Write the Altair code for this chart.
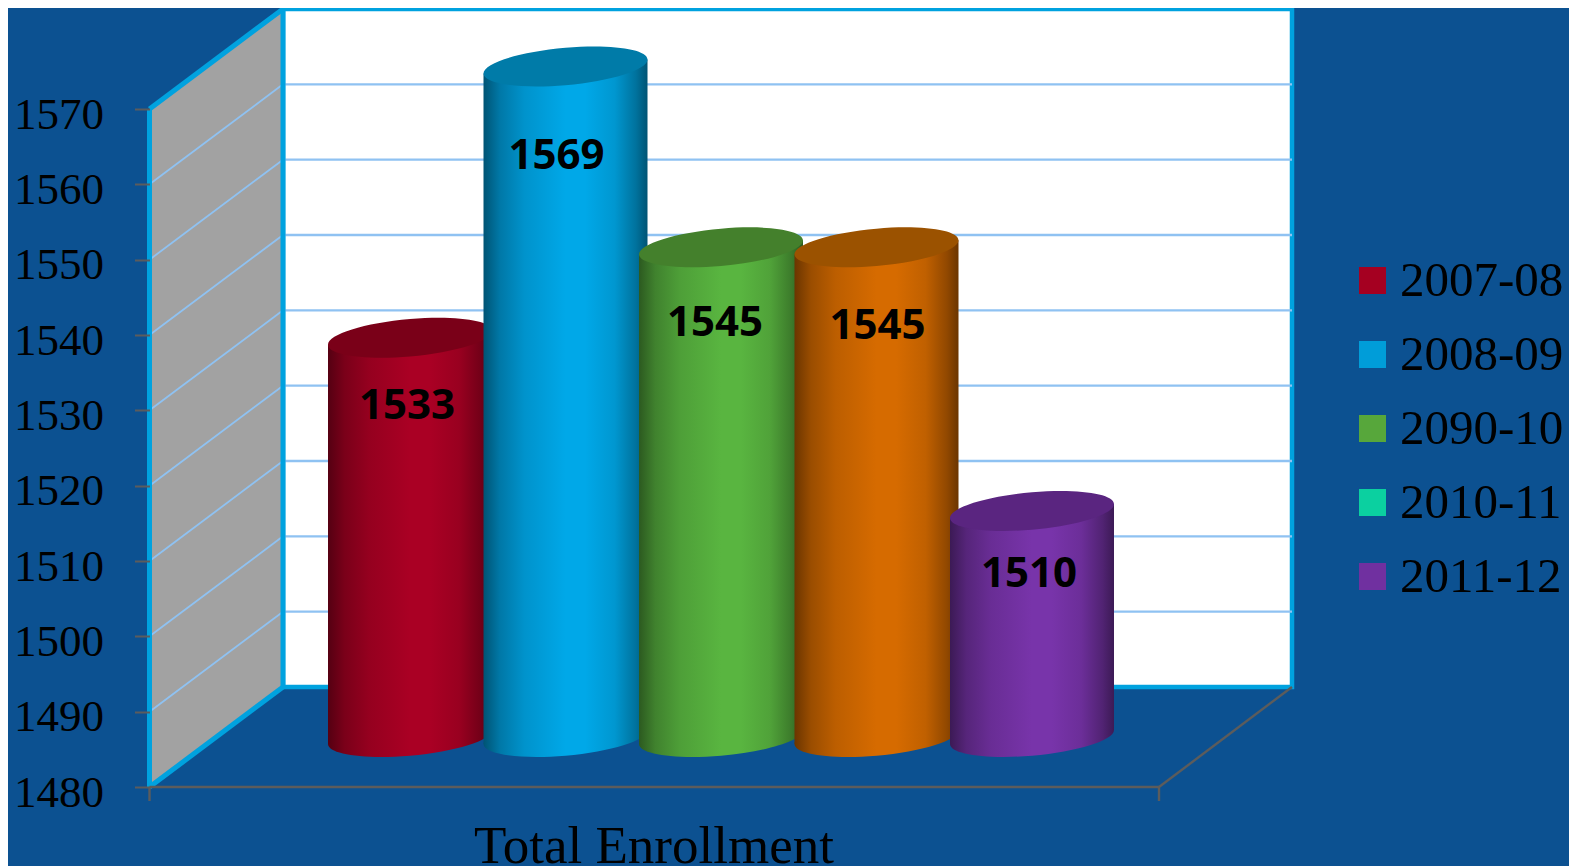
import altair as alt
import pandas as pd

years = ["2007-08", "2008-09", "2090-10", "2010-11", "2011-12"]
legend_colors = ["#A50021", "#009DD9", "#57A73B", "#0BD0A0", "#7030A0"]

bar_years = ["2007-08", "2008-09", "2090-10", "2090-10b", "2011-12"]
bar_values = [1533, 1569, 1545, 1545, 1510]
bar_base = ["#AA0024", "#00A8E8", "#59B540", "#D66B00", "#7834AA"]
bar_top = ["#7A0018", "#007BA8", "#44802C", "#9B5200", "#5A2580"]
label_dx = [-3, -9, -6, 1, -3]
label_dy = [68, 89, 76, 79, 63]

axis_ticks = [1480, 1490, 1500, 1510, 1520, 1530, 1540, 1550, 1560, 1570]
grid_values = [1490, 1500, 1510, 1520, 1530, 1540, 1550, 1560]

BG = "#0C5191"
FRAME = "#00A2DF"
GRID = "#8FC2F2"
AXIS = "#5C5C5C"
W, H = 1561, 858

# --- oblique projection of the chart box
Y_FRONT = [779, 101]
UNIT = (Y_FRONT[0] - Y_FRONT[1]) / 90
DEPTH = 100 / UNIT           # back wall, in value units
X_FRONT, X_BACK, X_RIGHT_BACK, X_RIGHT_FRONT = 141.5, 275, 1284, 1151
HALF_W = 82
TILT = 7 / UNIT

y_scale = alt.Scale(domain=[1480, 1570], range=Y_FRONT, nice=False, zero=False)
x_scale = alt.Scale(domain=[0, 4], range=[402, 1024], nice=False, zero=False)
step = (1024 - 402) / 4
half = HALF_W / step
NOAX = dict(axis=None)
y_axis = alt.Axis(
    values=axis_ticks, offset=-X_FRONT, domain=False, grid=False, ticks=True, tickSize=15,
    tickWidth=2, tickColor=AXIS, labelFont="Liberation Serif", labelFontSize=45,
    labelColor="black", labelPadding=31, labelOffset=5, labelBaseline="middle",
    format="d", labelOverlap=False, labelBound=False, labelFlush=False, title=None, zindex=1)


def Y(f):
    return alt.Y(f, type="quantitative", scale=y_scale, stack=None, axis=y_axis)


def gradient(hex_color):
    r, g, b = [int(hex_color[i:i + 2], 16) for i in (1, 3, 5)]
    stops = []
    for off, m in [(0, .5), (.1, .72), (.25, .88), (.5, 1.0), (.62, 1.0), (.8, .9), (.93, .68), (1, .5)]:
        stops.append({"offset": off, "color": "#%02x%02x%02x" % (int(r * m), int(g * m), int(b * m))})
    return {"gradient": "linear", "x1": 0, "x2": 1, "y1": 0, "y2": 0, "stops": stops}


def ellipse_path():
    s, b, k = 7 / 82, 18.7 / 82, 0.5523
    pts = [(1, 0), (1, k), (k, 1), (0, 1), (-k, 1), (-1, k), (-1, 0),
           (-1, -k), (-k, -1), (0, -1), (k, -1), (1, -k), (1, 0)]
    q = [(x, -s * x + b * y) for x, y in pts]
    f = lambda p: f"{p[0]:.4f},{p[1]:.4f}"
    d = "M" + f(q[0])
    for i in range(1, 13, 3):
        d += " C" + " ".join(f(p) for p in q[i:i + 3])
    return d + " Z"


ELLIPSE = ellipse_path()
E_SIZE = (2 * HALF_W) ** 2

# --- walls
back = alt.Chart(pd.DataFrame({"x0": [X_BACK], "x1": [X_RIGHT_BACK], "lo": [1480 + DEPTH], "hi": [1570 + DEPTH]})).mark_rect(
    fill="white", stroke=FRAME, strokeWidth=4.5
).encode(x=alt.X("x0:Q", scale=None, **NOAX), x2="x1:Q", y=Y("lo"), y2="hi:Q")

side = alt.Chart(pd.DataFrame({"x": [X_FRONT, X_BACK], "lo": [1480, 1480 + DEPTH], "hi": [1570, 1570 + DEPTH]})).mark_area(
    color="#A2A2A2"
).encode(x=alt.X("x:Q", scale=None, **NOAX), y=Y("lo"), y2="hi:Q")

grid_df = pd.DataFrame({"v": grid_values, "vb": [v + DEPTH for v in grid_values]})
back_grid = alt.Chart(grid_df).mark_rule(color=GRID, strokeWidth=2.4).encode(
    x=alt.value(X_BACK), x2=alt.value(X_RIGHT_BACK), y=Y("vb"))
side_grid = alt.Chart(grid_df).mark_rule(color=GRID, strokeWidth=1.8).encode(
    x=alt.value(X_FRONT), x2=alt.value(X_BACK), y=Y("v"), y2="vb:Q")


def seg_layer(rows, color, width):
    df = pd.DataFrame(rows, columns=["x0", "x1", "v0", "v1"])
    return alt.Chart(df).mark_rule(color=color, strokeWidth=width).encode(
        x=alt.X("x0:Q", scale=None, **NOAX), x2="x1:Q", y=Y("v0"), y2="v1:Q")


frame = seg_layer([
    (X_FRONT, X_FRONT, 1480, 1570),
    (X_FRONT, X_BACK, 1570, 1570 + DEPTH),
    (X_FRONT, X_BACK, 1480, 1480 + DEPTH),
    (X_BACK, X_BACK, 1480 + DEPTH, 1570 + DEPTH),
], FRAME, 5)
floor = seg_layer([
    (X_FRONT, X_RIGHT_FRONT, 1480, 1480),
    (X_RIGHT_FRONT, X_RIGHT_BACK, 1480, 1480 + DEPTH),
    (X_FRONT, X_FRONT, 1480, 1480 - 14 / UNIT),
    (X_RIGHT_FRONT, X_RIGHT_FRONT, 1480, 1480 - 14 / UNIT),
], AXIS, 2.4)

# --- cylinders
layers = []
labels = []
for i, (val, base, top) in enumerate(zip(bar_values, bar_base, bar_top)):
    mid = DEPTH / 2
    grad = gradient(base)
    body_df = pd.DataFrame({
        "p": [i - half, i + half],
        "hi": [val + mid - TILT, val + mid + TILT],
        "lo": [1480 + mid - TILT, 1480 + mid + TILT],
    })
    body = alt.Chart(body_df).mark_area(fill=grad, opacity=1).encode(
        x=alt.X("p:Q", scale=x_scale, **NOAX), y=Y("hi"), y2="lo:Q")
    one = pd.DataFrame({"p": [i], "top": [val + mid], "bot": [1480 + mid], "value": [val], "year": [bar_years[i]]})
    bottom = alt.Chart(one).mark_point(shape=ELLIPSE, size=E_SIZE, filled=True, fill=grad, opacity=1, strokeWidth=0).encode(
        x=alt.X("p:Q", scale=x_scale, **NOAX), y=Y("bot"))
    cap = alt.Chart(one).mark_point(shape=ELLIPSE, size=E_SIZE, filled=True, fill=top, opacity=1, strokeWidth=0).encode(
        x=alt.X("p:Q", scale=x_scale, **NOAX), y=Y("top"))
    layers += [bottom, body, cap]
    labels.append(alt.Chart(one).mark_text(
        font="Open Sans", fontWeight="bold", fontSize=42, color="black",
        dx=label_dx[i], dy=label_dy[i], baseline="middle", align="center"
    ).encode(x=alt.X("p:Q", scale=x_scale, **NOAX), y=Y("top"), text=alt.Text("value:Q", format="d")))

# --- title
title = alt.Chart(pd.DataFrame({"t": ["Total Enrollment"]})).mark_text(
    font="Liberation Serif", fontSize=53, color="black", align="center", baseline="alphabetic"
).encode(x=alt.value(646), y=alt.value(855), text="t:N")

# --- legend
legend_layer = alt.Chart(pd.DataFrame({"year": years, "v": [1480] * 5})).mark_point(
    filled=True, size=0, shape="square", opacity=0
).encode(
    x=alt.value(0), y=Y("v"),
    color=alt.Color("year:N", scale=alt.Scale(domain=years, range=legend_colors), legend=alt.Legend(
        orient="none", legendX=1340, legendY=259, title=None, symbolType="square", symbolSize=729,
        symbolStrokeWidth=0, symbolOpacity=1, labelFont="Liberation Serif", labelFontSize=49,
        labelColor="black", labelOffset=3, rowPadding=24, clipHeight=27, labelLimit=300,
        padding=0)))

chart = alt.layer(back, side, back_grid, side_grid, frame, floor, *layers, *labels, title, legend_layer).properties(
    width=W, height=H, padding=0, autosize="none", background=BG
).configure_view(strokeWidth=0)

chart.save("out.html", embed_options={"renderer": "svg", "actions": False})
